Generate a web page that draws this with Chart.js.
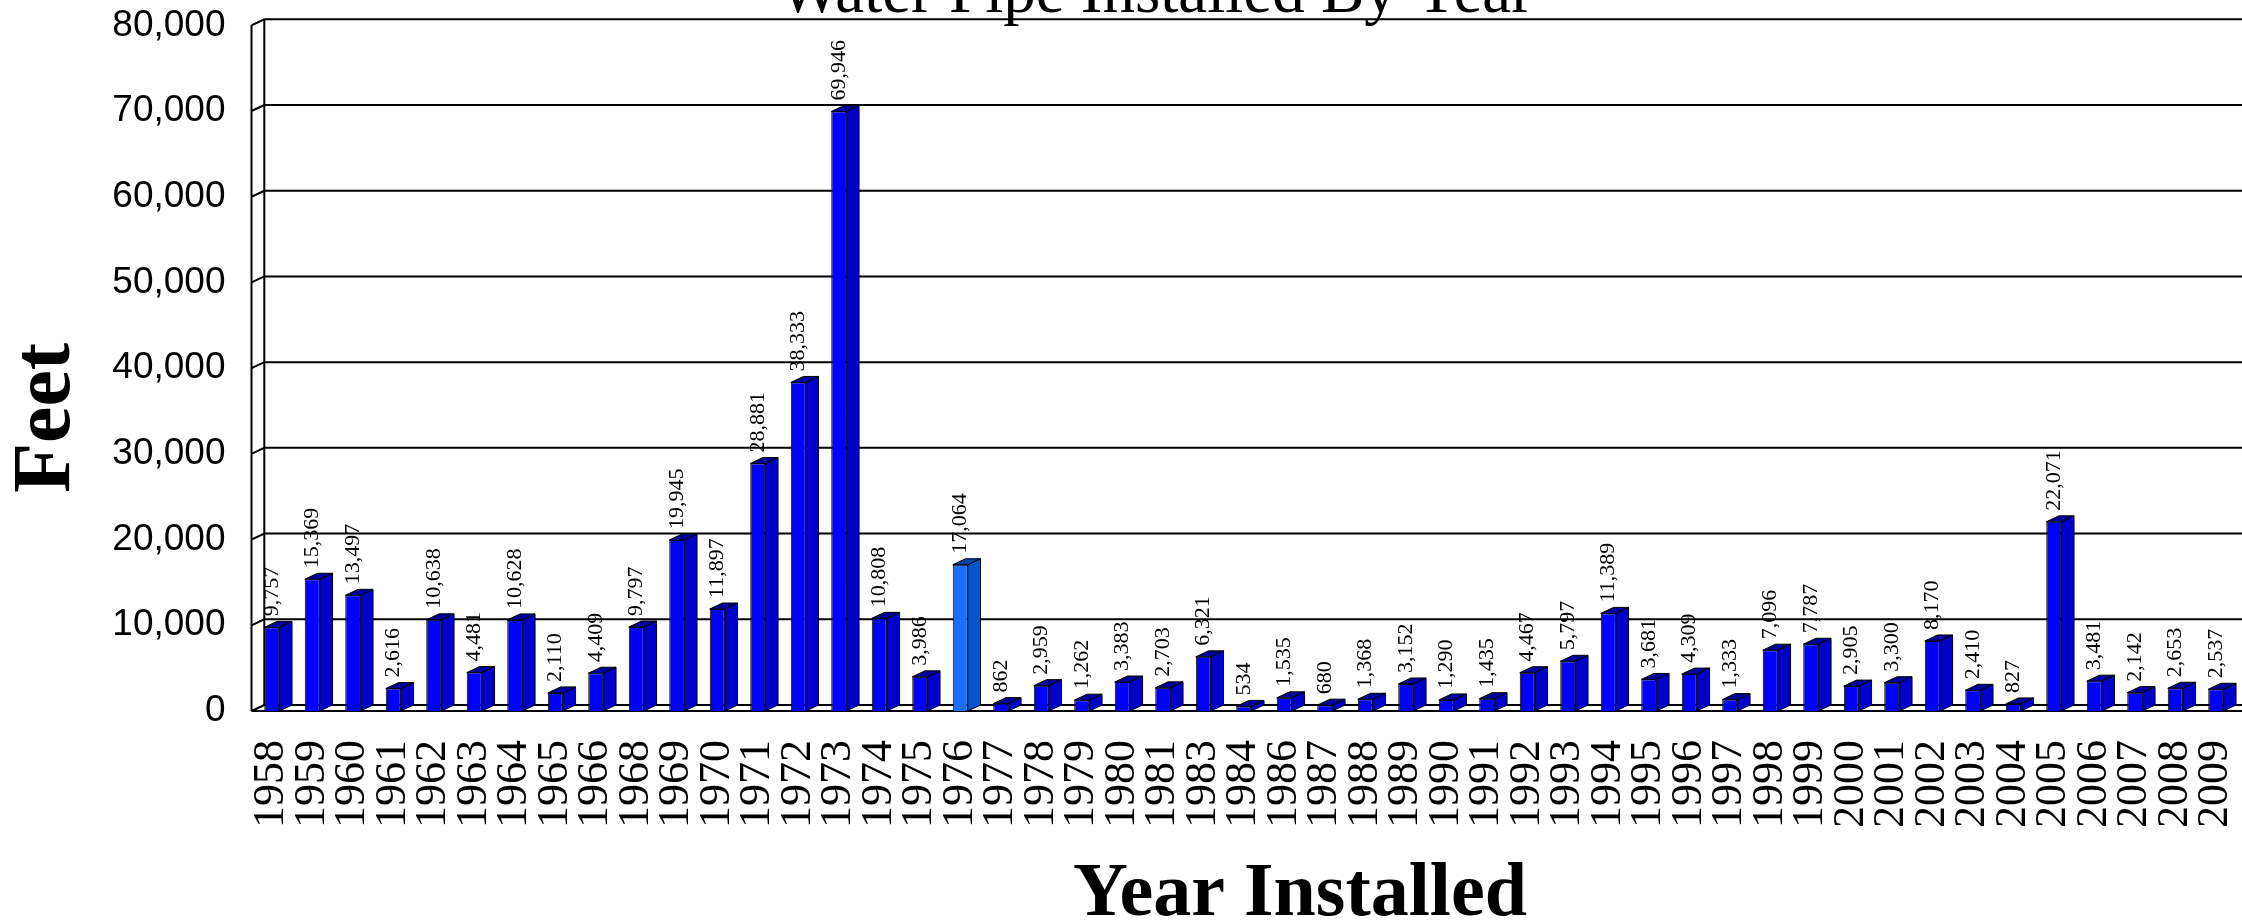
<!DOCTYPE html>
<html>
<head>
<meta charset="utf-8">
<title>Water Pipe Installed By Year</title>
<script src="https://cdn.jsdelivr.net/npm/chart.js@4/dist/chart.umd.min.js"></script>
<style>
  html, body { margin: 0; padding: 0; background: #fff; }
  canvas { display: block; }
</style>
</head>
<body>
<canvas id="chart" width="2242" height="921"></canvas>
<script>
const years = ['1958','1959','1960','1961','1962','1963','1964','1965','1966','1968',
  '1969','1970','1971','1972','1973','1974','1975','1976','1977','1978',
  '1979','1980','1981','1983','1984','1986','1987','1988','1989','1990',
  '1991','1992','1993','1994','1995','1996','1997','1998','1999','2000',
  '2001','2002','2003','2004','2005','2006','2007','2008','2009'];
const feet = [9757,15369,13497,2616,10638,4481,10628,2110,4409,9797,
  19945,11897,28881,38333,69946,10808,3986,17064,862,2959,
  1262,3383,2703,6321,534,1535,680,1368,3152,1290,
  1435,4467,5797,11389,3681,4309,1333,7096,7787,2905,
  3300,8170,2410,827,22071,3481,2142,2653,2537];
const yTicks = [0,10000,20000,30000,40000,50000,60000,70000,80000];
const highlightYear = '1976';

const chartTitle = 'Water Pipe Installed By Year';
const xTitle = 'Year Installed';
const yTitle = 'Feet';

// depth of the fake 3d look
const DX = 12.8;
const DY = 6;

const fmt = (v) => v.toLocaleString('en-US');
const isHi = (i) => years[i] === highlightYear;

// kill the extra padding chart.js wants for rotated / edge labels
function noPad(scale) {
  scale.paddingLeft = 0;
  scale.paddingRight = 0;
  scale.paddingTop = 0;
  scale.paddingBottom = 0;
}

const wallPlugin = {
  id: 'wall',
  beforeDatasetsDraw(chart) {
    const ctx = chart.ctx;
    const y = chart.scales.y;
    const area = chart.chartArea;
    const w = chart.width;
    ctx.save();
    ctx.strokeStyle = '#000';
    ctx.lineWidth = 2;
    // grid lines on the back wall
    yTicks.forEach((v) => {
      const py = y.getPixelForValue(v);
      ctx.beginPath();
      ctx.moveTo(area.left, py);
      ctx.lineTo(area.left + DX, py - DY);
      ctx.lineTo(w, py - DY);
      ctx.stroke();
    });
    // side wall verticals
    ctx.beginPath();
    ctx.moveTo(area.left, y.getPixelForValue(0));
    ctx.lineTo(area.left, y.getPixelForValue(80000));
    ctx.moveTo(area.left + DX, y.getPixelForValue(0) - DY);
    ctx.lineTo(area.left + DX, y.getPixelForValue(80000) - DY);
    ctx.stroke();
    // front floor edge
    ctx.beginPath();
    ctx.moveTo(area.left, y.getPixelForValue(0));
    ctx.lineTo(w, y.getPixelForValue(0));
    ctx.stroke();
    ctx.restore();
  }
};

const barsPlugin = {
  id: 'bars3d',
  afterDatasetsDraw(chart) {
    const ctx = chart.ctx;
    const meta = chart.getDatasetMeta(0);
    ctx.save();
    ctx.lineWidth = 1;
    ctx.strokeStyle = '#000';
    meta.data.forEach((bar, i) => {
      const l = bar.x - bar.width / 2;
      const r = bar.x + bar.width / 2;
      const t = bar.y;
      const b = bar.base;
      // side
      ctx.fillStyle = isHi(i) ? '#0055cc' : '#0000c8';
      ctx.beginPath();
      ctx.moveTo(r, t);
      ctx.lineTo(r + DX, t - DY);
      ctx.lineTo(r + DX, b - DY);
      ctx.lineTo(r, b);
      ctx.closePath();
      ctx.fill();
      ctx.stroke();
      // top
      ctx.fillStyle = isHi(i) ? '#0044aa' : '#00009a';
      ctx.beginPath();
      ctx.moveTo(l, t);
      ctx.lineTo(l + DX, t - DY);
      ctx.lineTo(r + DX, t - DY);
      ctx.lineTo(r, t);
      ctx.closePath();
      ctx.fill();
      ctx.stroke();
      // value label
      ctx.save();
      ctx.translate(bar.x, t - DY - 5);
      ctx.rotate(-Math.PI / 2);
      ctx.fillStyle = '#000';
      ctx.font = '22px "Liberation Serif"';
      ctx.textAlign = 'left';
      ctx.textBaseline = 'middle';
      ctx.fillText(fmt(feet[i]), 0, 0);
      ctx.restore();
    });
    ctx.restore();
  }
};

const titlesPlugin = {
  id: 'titles',
  afterDraw(chart) {
    const ctx = chart.ctx;
    ctx.save();
    ctx.fillStyle = '#000';
    ctx.textAlign = 'center';
    ctx.textBaseline = 'alphabetic';
    ctx.font = '65px "Liberation Serif"';
    ctx.fillText(chartTitle, 1156, 12);
    ctx.font = 'bold 76px "Liberation Serif"';
    ctx.fillText(xTitle, 1300, 915);
    ctx.translate(69, 418);
    ctx.rotate(-Math.PI / 2);
    ctx.font = 'bold 82px "Liberation Serif"';
    ctx.fillText(yTitle, 0, 0);
    ctx.restore();
  }
};

const ctx = document.getElementById('chart');

const config = {
  type: 'bar',
  data: {
    labels: years,
    datasets: [{
      label: 'Feet',
      data: feet,
      backgroundColor: years.map((yr, i) => isHi(i) ? '#1a6eff' : '#0000ff'),
      borderColor: '#000',
      borderWidth: 1,
      barPercentage: 0.37,
      categoryPercentage: 1,
    }]
  },
  options: {
    responsive: false,
    animation: false,
    devicePixelRatio: 1,
    layout: { padding: { top: 25.3, right: 6, left: 0, bottom: 0 } },
    plugins: {
      legend: { display: false },
      title: { display: false },
      tooltip: { enabled: false },
    },
    scales: {
      x: {
        grid: { display: false },
        border: { display: false },
        ticks: {
          autoSkip: false,
          minRotation: 90,
          maxRotation: 90,
          padding: 21,
          color: '#000',
          font: { family: 'Liberation Serif', size: 44 },
        },
        afterFit(scale) {
          scale.height = 210;
          noPad(scale);
        },
      },
      y: {
        min: 0,
        max: 80000,
        grid: { display: false },
        border: { display: false },
        ticks: {
          stepSize: 10000,
          padding: 18,
          color: '#000',
          font: { family: 'Liberation Sans', size: 37 },
          callback: (v) => fmt(v),
        },
        afterFit(scale) {
          scale.width = 251.5;
          noPad(scale);
        },
      }
    }
  },
  plugins: [wallPlugin, barsPlugin, titlesPlugin],
};

const chart = new Chart(ctx, config);
</script>
</body>
</html>
